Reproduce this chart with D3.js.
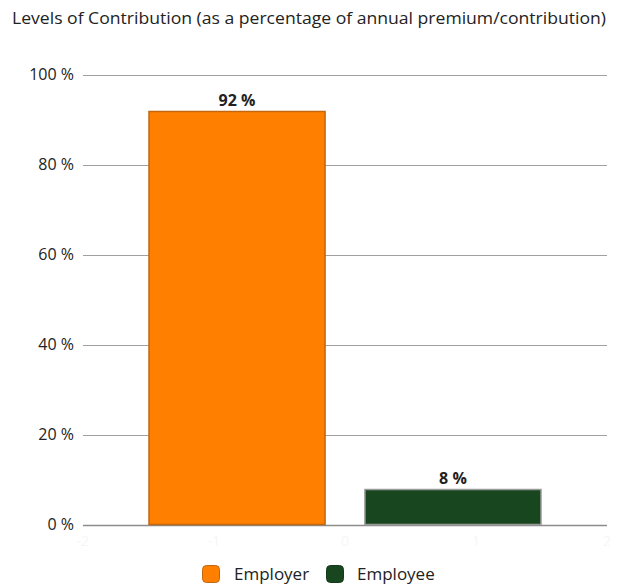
<!DOCTYPE html>
<html>
<head>
<meta charset="utf-8">
<script src="https://cdn.jsdelivr.net/npm/d3@7/dist/d3.min.js"></script>
<style>
  html, body { margin: 0; padding: 0; background: #fff; }
  svg { display: block; }
</style>
</head>
<body>
<svg id="chart" width="639" height="588"></svg>
<script>
// Contribution split between employer and employee
const categories = ["Employer", "Employee"];
const values = [92, 8];
const colors = ["#ff8000", "#18471f"];
const strokes = ["#c2670e", "#9a9a9a"];
const yTicks = [0, 20, 40, 60, 80, 100];
const xTicks = [-2, -1, 0, 1, 2];
const title = "Levels of Contribution (as a percentage of annual premium/contribution)";

const svg = d3.select("#chart");
const plotLeft = 83, plotRight = 607, plotTop = 75, plotBottom = 525;

const x = d3.scaleLinear().domain([-2, 2]).range([plotLeft, plotRight]);
const y = d3.scaleLinear().domain([0, 100]).range([plotBottom, plotTop]);
const band = d3.scaleBand().domain(categories)
  .range([x(-1.5), x(1.5)]).paddingInner(0.18).paddingOuter(0);

const uiFont = "'Open Sans', 'Noto Sans', sans-serif";

// title
svg.append("text")
  .attr("x", 12).attr("y", 24)
  .attr("font-family", uiFont).attr("font-size", 16)
  .attr("textLength", 594).attr("lengthAdjust", "spacingAndGlyphs")
  .attr("fill", "#222")
  .text(title);

// gridlines
svg.append("g").selectAll("line").data(yTicks).join("line")
  .attr("x1", plotLeft).attr("x2", plotRight)
  .attr("y1", d => Math.round(y(d)) + 0.5).attr("y2", d => Math.round(y(d)) + 0.5)
  .attr("stroke", d => d === 0 ? "#8c8c8c" : "#a0a0a0")
  .attr("stroke-width", d => d === 0 ? 1.5 : 1);

// y axis labels
svg.append("g").selectAll("text").data(yTicks).join("text")
  .attr("x", 74).attr("y", d => y(d) + 5)
  .attr("text-anchor", "end")
  .attr("font-family", uiFont).attr("font-size", 16)
  .attr("fill", "#222")
  .text(d => d + " %");

// faint x axis labels
svg.append("g").selectAll("text").data(xTicks).join("text")
  .attr("x", d => x(d)).attr("y", 546)
  .attr("text-anchor", "middle")
  .attr("font-family", uiFont).attr("font-size", 14)
  .attr("fill", "#f6f6f6")
  .text(d => d);

// bars
svg.append("g").selectAll("rect").data(categories).join("rect")
  .attr("x", d => band(d) + 0.5)
  .attr("y", (d, i) => y(values[i]) + 0.5)
  .attr("width", band.bandwidth() - 1)
  .attr("height", (d, i) => y(0) - y(values[i]) - 1)
  .attr("fill", (d, i) => colors[i])
  .attr("stroke", (d, i) => strokes[i])
  .attr("stroke-width", 1.5);

// value labels
svg.append("g").selectAll("text").data(categories).join("text")
  .attr("x", d => band(d) + band.bandwidth() / 2)
  .attr("y", (d, i) => y(values[i]) - 5)
  .attr("text-anchor", "middle")
  .attr("font-family", uiFont).attr("font-size", 16).attr("font-weight", "bold")
  .attr("fill", "#222")
  .text((d, i) => values[i] + " %");

// legend
const legend = svg.append("g");
const legendItems = [
  { x0: 202, tx: 234 },
  { x0: 326, tx: 357 }
];
categories.forEach((c, i) => {
  legend.append("rect")
    .attr("x", legendItems[i].x0 + 0.5).attr("y", 565.5)
    .attr("width", 17).attr("height", 17).attr("rx", 4)
    .attr("fill", colors[i])
    .attr("stroke", i === 0 ? "#c2670e" : "#123a18").attr("stroke-width", 1);
  legend.append("text")
    .attr("x", legendItems[i].tx).attr("y", 580)
    .attr("font-family", uiFont).attr("font-size", 17)
    .attr("fill", "#222")
    .text(c);
});
</script>
</body>
</html>
